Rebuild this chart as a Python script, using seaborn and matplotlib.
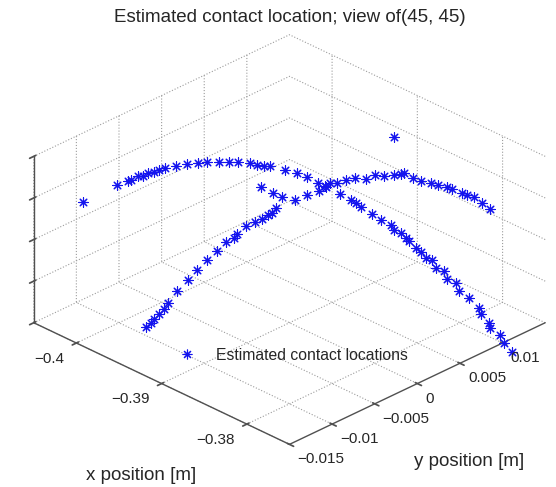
import matplotlib
matplotlib.use("Agg")
import matplotlib.pyplot as plt
import seaborn as sns
from matplotlib.lines import Line2D
from mpl_toolkits.mplot3d import proj3d

# ---------------- data (metres) ----------------
# first arc: high on the left, descending towards +x
arc1_x = [-0.40159, -0.40061, -0.40092, -0.40098, -0.40136, -0.40140, -0.40159, -0.40162,
          -0.40185, -0.40195, -0.40198, -0.40203, -0.40201, -0.40193, -0.40182, -0.40165,
          -0.40147, -0.40108, -0.40075, -0.40048, -0.40037, -0.39966, -0.39910, -0.39840,
          -0.39748, -0.39700, -0.39728, -0.39580, -0.39479, -0.39442, -0.39381, -0.39280,
          -0.39184, -0.39106, -0.39039, -0.38986, -0.38917, -0.38879, -0.38786, -0.38729,
          -0.38647, -0.38609, -0.38498, -0.38453, -0.38350, -0.38282, -0.38183, -0.38072,
          -0.37929, -0.37853, -0.37735, -0.37672, -0.37566, -0.37466, -0.37329]
arc1_y = [-0.01259, -0.00957, -0.00802, -0.00757, -0.00641, -0.00579, -0.00495, -0.00429,
          -0.00340, -0.00264, -0.00134, 0.00000, 0.00123, 0.00231, 0.00355, 0.00452,
          0.00544, 0.00650, 0.00696, 0.00746, 0.00812, 0.00916, 0.00996, 0.01049,
          0.01085, 0.01115, 0.01202, 0.01170, 0.01206, 0.01227, 0.01224, 0.01251,
          0.01260, 0.01299, 0.01270, 0.01295, 0.01284, 0.01285, 0.01270, 0.01271,
          0.01247, 0.01279, 0.01222, 0.01266, 0.01202, 0.01231, 0.01171, 0.01177,
          0.01150, 0.01094, 0.01081, 0.01029, 0.01040, 0.00978, 0.00937]
arc1_z = [0.01500, 0.01600, 0.01557, 0.01544, 0.01517, 0.01496, 0.01474, 0.01452,
          0.01430, 0.01407, 0.01362, 0.01318, 0.01275, 0.01234, 0.01188, 0.01149,
          0.01110, 0.01060, 0.01033, 0.01006, 0.00979, 0.00919, 0.00872, 0.00829,
          0.00785, 0.00758, 0.00738, 0.00697, 0.00650, 0.00630, 0.00610, 0.00566,
          0.00529, 0.00489, 0.00476, 0.00449, 0.00428, 0.00415, 0.00388, 0.00368,
          0.00348, 0.00324, 0.00305, 0.00274, 0.00261, 0.00227, 0.00214, 0.00173,
          0.00133, 0.00126, 0.00090, 0.00086, 0.00046, 0.00032, 0.00000]

# second arc: low on the left, rising towards +x
arc2_x = [-0.39788, -0.39790, -0.39799, -0.39818, -0.39822, -0.39863, -0.39922, -0.39956,
          -0.39986, -0.40001, -0.40022, -0.40027, -0.40009, -0.40016, -0.40039, -0.39989,
          -0.39955, -0.39956, -0.39936, -0.39951, -0.39856, -0.39802, -0.39728, -0.39710,
          -0.39656, -0.39586, -0.39531, -0.39406, -0.39372, -0.39257, -0.39166, -0.39118,
          -0.39098, -0.38950, -0.38838, -0.38709, -0.38609, -0.38491, -0.38413, -0.38272,
          -0.38198, -0.38103, -0.37951, -0.37793]
arc2_y = [-0.00893, -0.00832, -0.00785, -0.00708, -0.00646, -0.00558, -0.00401, -0.00239,
          -0.00101, 0.00039, 0.00169, 0.00287, 0.00357, 0.00403, 0.00524, 0.00589,
          0.00634, 0.00699, 0.00731, 0.00796, 0.00922, 0.01011, 0.01077, 0.01137,
          0.01208, 0.01254, 0.01296, 0.01307, 0.01370, 0.01371, 0.01397, 0.01427,
          0.01445, 0.01394, 0.01380, 0.01368, 0.01356, 0.01343, 0.01323, 0.01299,
          0.01283, 0.01266, 0.01210, 0.01151]
arc2_z = [0.00000, 0.00020, 0.00033, 0.00054, 0.00074, 0.00090, 0.00124, 0.00168,
          0.00206, 0.00249, 0.00286, 0.00326, 0.00356, 0.00370, 0.00403, 0.00444,
          0.00471, 0.00493, 0.00511, 0.00528, 0.00605, 0.00655, 0.00703, 0.00730,
          0.00773, 0.00814, 0.00847, 0.00894, 0.00928, 0.00968, 0.01009, 0.01036,
          0.01049, 0.01082, 0.01116, 0.01157, 0.01187, 0.01224, 0.01244, 0.01284,
          0.01304, 0.01331, 0.01365, 0.01399]

# stray estimates
stray_x = [-0.40357, -0.40171, -0.40029, -0.38789]
stray_y = [0.01028, 0.00978, 0.00940, 0.01020]
stray_z = [0.00468, 0.00515, 0.00551, 0.01836]

x_ticks = [-0.40, -0.39, -0.38]
x_tick_labels = ["\u22120.4", "\u22120.39", "\u22120.38"]
y_ticks = [-0.015, -0.010, -0.005, 0.0, 0.005, 0.010]
y_tick_labels = ["\u22120.015", "\u22120.01", "\u22120.005", "0", "0.005", "0.01"]
z_ticks = [0.0, 0.005, 0.010, 0.015, 0.020]

title_text = "Estimated contact location; view of(45, 45)"
legend_text = "Estimated contact locations"

# ---------------- style ----------------
sns.set_theme(style="white")
plt.rcParams["font.family"] = ["Liberation Sans", "DejaVu Sans"]
plt.rcParams.update({
    "grid.linestyle": ":",
    "grid.color": "#9c9c9c",
    "grid.linewidth": 0.8,
    "axes.edgecolor": "#505050",
    "axes.linewidth": 1.0,
    "text.color": "#262626",
    "xtick.color": "#505050",
    "ytick.color": "#505050",
})

fig = plt.figure(figsize=(5.56, 4.87), dpi=100)
ax = fig.add_axes([0.0088, -0.0054, 1.0, 1.0], projection="3d", proj_type="ortho")
ax.view_init(elev=28.4, azim=-45)
ax.set_box_aspect((1, 1, 0.523), zoom=1.087)

asterisk = (8, 2, 0)
blue = sns.color_palette(["#1414ee"])[0]
xs = arc1_x + arc2_x + stray_x
ys = arc1_y + arc2_y + stray_y
zs = arc1_z + arc2_z + stray_z
ax.scatter(xs, ys, zs, marker=asterisk, s=46, c=[blue], linewidths=0.8,
           depthshade=False)

x_lim = (-0.405, -0.375)
y_lim = (-0.015, 0.015)
z_lim = (0.0, 0.02)
ax.set_xlim(*x_lim)
ax.set_ylim(*y_lim)
ax.set_zlim(*z_lim)
ax.set_xticks(x_ticks)
ax.set_yticks(y_ticks)
ax.set_zticks(z_ticks)
for axis in (ax.xaxis, ax.yaxis, ax.zaxis):
    axis.set_tick_params(labelsize=0, labelcolor=(1, 1, 1, 0))
    axis.set_major_formatter(matplotlib.ticker.NullFormatter())
    axis.set_pane_color((1, 1, 1, 0))
    axis.line.set_color("#505050")
ax.zaxis.set_ticks_position("lower")
ax.grid(True)

# tick labels: project points just outside the front axis edges to 2-D
x_span = x_lim[1] - x_lim[0]
y_span = y_lim[1] - y_lim[0]
z_span = z_lim[1] - z_lim[0]
M = ax.get_proj()
for t, lab in zip(x_ticks, x_tick_labels):
    px, py, _ = proj3d.proj_transform(t, y_lim[0] - 0.047 * y_span,
                                      z_lim[0] - 0.06 * z_span, M)
    ax.text2D(px, py, lab, transform=ax.transData, ha="right", va="center",
              fontsize=11)
for t, lab in zip(y_ticks, y_tick_labels):
    px, py, _ = proj3d.proj_transform(x_lim[1] + 0.031 * x_span, t,
                                      z_lim[0] - 0.068 * z_span, M)
    ax.text2D(px, py, lab, transform=ax.transData, ha="left", va="center",
              fontsize=11)

fig.text(290 / 556, 1 - 17 / 487, title_text, ha="center", va="center", fontsize=13.5)
fig.text(141 / 556, 1 - 475 / 487, "x position [m]", ha="center", va="center", fontsize=13.5)
fig.text(469.5 / 556, 1 - 461 / 487, "y position [m]", ha="center", va="center", fontsize=13.5)

handle = Line2D([], [], linestyle="none", marker=asterisk, markersize=7,
                color=blue, markeredgewidth=0.8)
fig.legend([handle], [legend_text], loc="center left", frameon=False,
           bbox_to_anchor=(163.5 / 556, 1 - 355 / 487), fontsize=11.3,
           handlelength=1.2, handletextpad=1.24)

fig.savefig("out.png", dpi=100)
